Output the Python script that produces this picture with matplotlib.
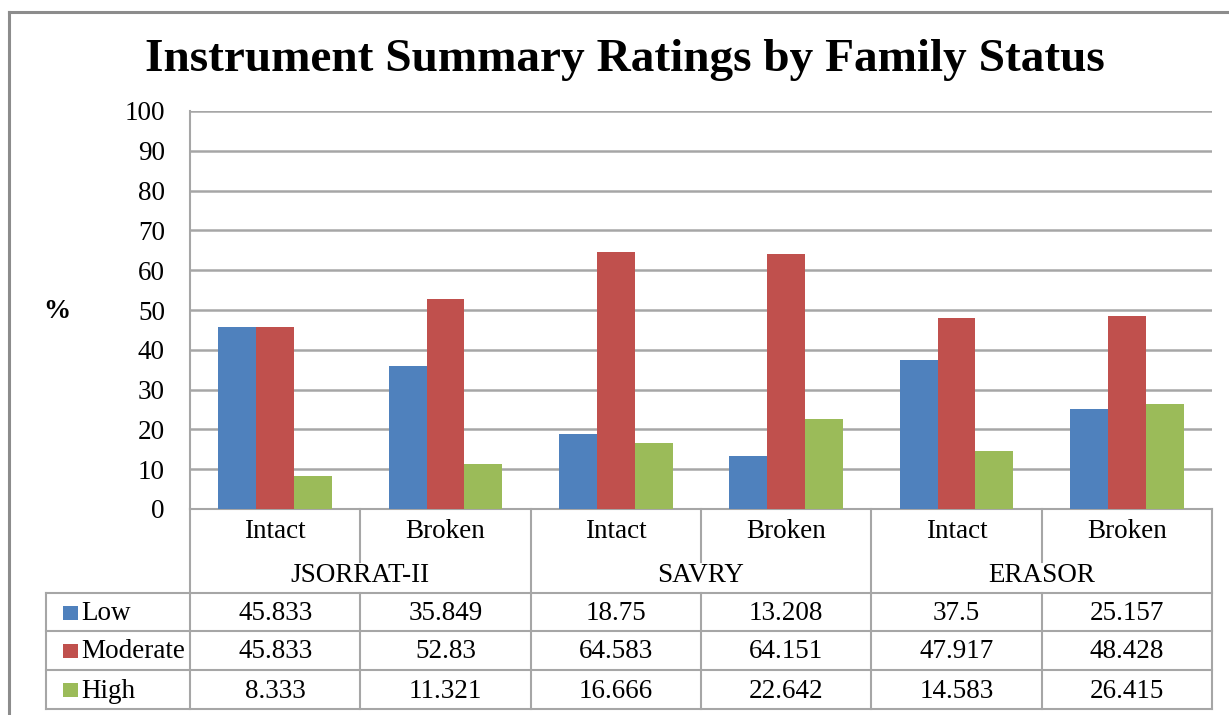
import matplotlib
matplotlib.use("Agg")
import matplotlib.pyplot as plt
import matplotlib.transforms as mtransforms
from matplotlib.lines import Line2D
from matplotlib.patches import Rectangle
import numpy as np

plt.rcParams['font.family'] = ['Liberation Serif', 'DejaVu Serif']

title = "Instrument Summary Ratings by Family Status"
categories = ["Intact", "Broken", "Intact", "Broken", "Intact", "Broken"]
groups = ["JSORRAT-II", "SAVRY", "ERASOR"]
series_names = ["Low", "Moderate", "High"]
low = [45.833, 35.849, 18.75, 13.208, 37.5, 25.157]
moderate = [45.833, 52.83, 64.583, 64.151, 47.917, 48.428]
high = [8.333, 11.321, 16.666, 22.642, 14.583, 26.415]
low_txt = ["45.833", "35.849", "18.75", "13.208", "37.5", "25.157"]
moderate_txt = ["45.833", "52.83", "64.583", "64.151", "47.917", "48.428"]
high_txt = ["8.333", "11.321", "16.666", "22.642", "14.583", "26.415"]
colors = ["#4F81BD", "#C0504D", "#9BBB59"]
yticks = [0, 10, 20, 30, 40, 50, 60, 70, 80, 90, 100]

W, H = 1229, 715
fig = plt.figure(figsize=(W / 100, H / 100), dpi=100)
fig.patch.set_facecolor("white")

def fx(px):
    return px / W

def fy(py):
    return 1 - py / H

left, right, top, bottom = 190, 1212, 111, 509
ax = fig.add_axes([fx(left), fy(bottom), fx(right) - fx(left), fy(top) - fy(bottom)])

n = len(categories)
x = np.arange(n)
bw = 1 / 4.5
for i, (vals, c) in enumerate(zip([low, moderate, high], colors)):
    ax.bar(x + (i - 1) * bw, vals, width=bw, color=c, zorder=3)

fs = 19.5
ax.set_xlim(-0.5, n - 0.5)
ax.set_ylim(0, 100)
ax.set_yticks(yticks)
ax.set_yticklabels([str(t) for t in yticks], fontsize=fs)
ax.tick_params(axis='y', length=0, pad=18)
ax.set_xticks([])
ax.yaxis.grid(True, color="#A6A6A6", linewidth=1.8, zorder=0)
for s in ["top", "right", "bottom"]:
    ax.spines[s].set_visible(False)
ax.spines["left"].set_color("#A6A6A6")
ax.spines["left"].set_linewidth(1.5)

fig.text(fx(57), fy(312), "%", fontsize=fs, fontweight="bold", ha="center", va="center")
fig.text(fx(625), fy(60), title, fontsize=34, fontweight="bold", ha="center", va="center")

# table, using x data coords and y axes coords
tr = mtransforms.blended_transform_factory(ax.transData, ax.transAxes)
ph = bottom - top

def ya(py):
    return (bottom - py) / ph

gc = "#A6A6A6"
lw = 1.5
x_left = -0.5
x_right = n - 0.5
ucol = (right - left) / n
x_hdr = -0.5 - (left - 46) / ucol

def hline(x0, x1, py):
    ax.add_line(Line2D([x0, x1], [ya(py), ya(py)], transform=tr, color=gc, lw=lw, clip_on=False))

def vline(xx, py0, py1):
    ax.add_line(Line2D([xx, xx], [ya(py0), ya(py1)], transform=tr, color=gc, lw=lw, clip_on=False))

hline(x_left, x_right, bottom)
for py in [593, 631, 670, 709]:
    hline(x_hdr, x_right, py)
vline(x_left, bottom, 709)
vline(x_right, bottom, 709)
vline(x_hdr, 593, 709)
for k in range(1, n):
    if k % 2 == 0:
        vline(k - 0.5, bottom, 709)
    else:
        vline(k - 0.5, bottom, 562)
        vline(k - 0.5, 593, 709)

for i, c in enumerate(categories):
    ax.text(i, ya(532), c, transform=tr, ha="center", va="center", fontsize=fs, clip_on=False)
for g, name in enumerate(groups):
    ax.text(2 * g + 0.5, ya(576), name, transform=tr, ha="center", va="center", fontsize=fs, clip_on=False)

row_y = [614, 652, 691]
for r, (name, txts, c) in enumerate(zip(series_names, [low_txt, moderate_txt, high_txt], colors)):
    yy = row_y[r]
    ax.add_patch(Rectangle((x_hdr + 17 / ucol, ya(yy + 6)), 15 / ucol, 14 / ph, transform=tr,
                           facecolor=c, edgecolor="none", clip_on=False))
    ax.text(x_hdr + 35 / ucol, ya(yy), name, transform=tr, ha="left", va="center", fontsize=fs, clip_on=False)
    for i, t in enumerate(txts):
        ax.text(i, ya(yy), t, transform=tr, ha="center", va="center", fontsize=fs, clip_on=False)

# outer chart border
fig.add_artist(Line2D([fx(9), fx(9)], [fy(12), fy(H + 5)], color="#8C8C8C", lw=2.2))
fig.add_artist(Line2D([fx(9), fx(W + 5)], [fy(12), fy(12)], color="#8C8C8C", lw=2.2))

fig.savefig("out.png", dpi=100, facecolor="white")
